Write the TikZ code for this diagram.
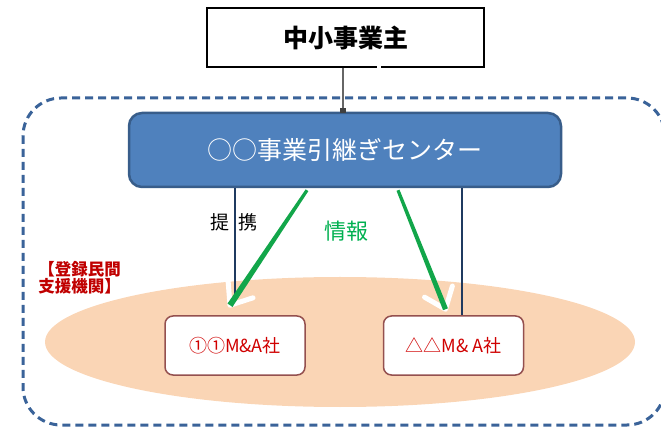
\documentclass[tikz,border=0pt]{standalone}
\usepackage{fontspec}
\setmainfont{Noto Sans CJK JP}
\usetikzlibrary{arrows.meta,shapes.geometric,calc}
\definecolor{dashcol}{HTML}{3A6399}
\definecolor{centerfill}{HTML}{4F81BD}
\definecolor{centerdraw}{HTML}{385D8A}
\definecolor{navyline}{HTML}{1F3A60}
\definecolor{arrowgreen}{HTML}{12A64A}
\definecolor{infogreen}{HTML}{00B050}
\definecolor{labelred}{HTML}{C00000}
\definecolor{boxred}{HTML}{D00000}
\definecolor{boxborder}{HTML}{94504F}
\definecolor{peach}{HTML}{FAD5B5}
\tikzset{
  ownerbox/.style={draw=black, line width=2pt, fill=white, minimum width=277pt, minimum height=59pt, inner sep=0pt, font=\fontsize{25}{25}\selectfont\bfseries},
  centerbox/.style={draw=centerdraw, line width=2.5pt, fill=centerfill, rounded corners=13pt, minimum width=432pt, minimum height=74pt, inner sep=0pt, text=white, font=\fontsize{25}{25}\selectfont},
  companybox/.style={draw=boxborder, line width=1.5pt, fill=white, rounded corners=8pt, minimum width=140pt, minimum height=59pt, inner sep=0pt, text=boxred, font=\fontsize{18}{18}\selectfont},
  arealip/.style={ellipse, fill=peach, draw=none, minimum width=590pt, minimum height=130pt, inner sep=0pt},
  linkline/.style={navyline, line width=2pt},
  infohalo/.style={white, line width=5pt, line cap=round, line join=round},
  infoline/.style={fill=arrowgreen, draw=none},
}
\begin{document}
\begin{tikzpicture}[x=1pt,y=-1pt]
\useasboundingbox (0,0) rectangle (661,427);
% outer dashed frame
\draw[dashcol, line width=3pt, dash pattern=on 8pt off 5pt, rounded corners=38pt] (23,98) rectangle (665,425);
% area ellipse
\node[arealip] (area) at (340,342) {};
% nodes
\node[ownerbox] (owner) at (345.5,37.5) {中小事業主};
\node[centerbox] (center) at (345,150) {○○事業引継ぎセンター};
\node[companybox] (a) at (235,345.5) {①①M\&A社};
\node[companybox] (b) at (453.5,345.5) {△△M\& A社};
% owner to center connector
\draw[gray!80!black, line width=1.5pt, -{Square[length=5pt,width=6pt,black!75]}] (owner.south -| 343,0) -- ([yshift=-1pt]center.north -| 343,0);
\draw[white, line width=3.5pt] (379,63) -- (379,110);
% partnership lines
\draw[linkline] (center.south -| a.north) -- ([yshift=10pt]a.north);
\draw[linkline] (center.south -| 462,0) -- (b.north -| 462,0);
% information arrows
\coordinate (s1) at ([xshift=-38pt,yshift=-2pt]center.south);
\coordinate (t1) at ([xshift=-5pt,yshift=10pt]a.north);
\coordinate (b1) at ($(t1)!19pt!(s1)$);
\coordinate (s2) at ([xshift=53pt,yshift=-2pt]center.south);
\coordinate (t2) at ([xshift=-8pt,yshift=6pt]b.north);
\coordinate (b2) at ($(t2)!19pt!(s2)$);
\draw[infohalo] ($(b1)!15pt!90:(t1)$) -- (t1) -- ($(b1)!15pt!-90:(t1)$);
\draw[infohalo] ($(b2)!15pt!90:(t2)$) -- (t2) -- ($(b2)!15pt!-90:(t2)$);
\fill[infoline] ($(s1)!1.6pt!90:(t1)$) -- ($(s1)!1.6pt!-90:(t1)$) -- ($(t1)!3pt!90:(s1)$) -- ($(t1)!3pt!-90:(s1)$) -- cycle;
\fill[infoline] ($(s2)!1.6pt!90:(t2)$) -- ($(s2)!1.6pt!-90:(t2)$) -- ($(t2)!2.6pt!90:(s2)$) -- ($(t2)!2.6pt!-90:(s2)$) -- cycle;
% labels
\node[font=\fontsize{19}{19}\selectfont] (teikei) at (234,222) {提\hspace{10pt}携};
\node[text=infogreen, font=\fontsize{22}{22}\selectfont] (info) at (346,231) {情報};
\node[anchor=east, align=right, text=labelred, font=\fontsize{16.5}{17}\selectfont\bfseries, inner sep=0pt] (reg) at (121,278) {【登録民間\\支援機関】};
\end{tikzpicture}
\end{document}
